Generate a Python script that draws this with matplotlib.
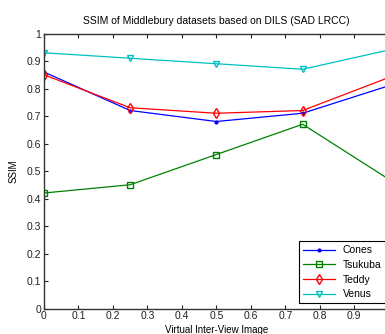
import matplotlib
matplotlib.use("Agg")
import matplotlib.pyplot as plt

# virtual inter-view positions
x_pos = [0.0, 0.25, 0.5, 0.75, 1.0]

cones = [0.86, 0.72, 0.68, 0.71, 0.81]
tsukuba = [0.42, 0.45, 0.56, 0.67, 0.47]
teddy = [0.85, 0.73, 0.71, 0.72, 0.84]
venus = [0.93, 0.91, 0.89, 0.87, 0.94]

x_ticks = [i / 10 for i in range(10)]
y_ticks = [i / 10 for i in range(11)]
x_tick_labels = ["0", "0.1", "0.2", "0.3", "0.4", "0.5", "0.6", "0.7", "0.8", "0.9"]
y_tick_labels = ["0", "0.1", "0.2", "0.3", "0.4", "0.5", "0.6", "0.7", "0.8", "0.9", "1"]


def main():
    plt.rcParams.update({"font.family": "Liberation Sans", "font.size": 7.5})
    fig = plt.figure(figsize=(3.85, 3.34), dpi=100)
    # the right part of the axes runs past the image edge, as in the original crop
    ax = fig.add_axes([0.114, 0.0763, 0.896, 0.8234])

    ax.plot(x_pos, cones, color="#0000ff", marker=".", markersize=4, lw=0.9, label="Cones")
    ax.plot(x_pos, tsukuba, color="#008000", marker="s", markersize=5, mfc="none", lw=0.9, label="Tsukuba")
    ax.plot(x_pos, teddy, color="#ff0000", marker="d", markersize=5, mfc="none", lw=0.9, label="Teddy")
    ax.plot(x_pos, venus, color="#00bfbf", marker="v", markersize=5, mfc="none", lw=0.9, label="Venus")

    ax.set_xlim(0, 1)
    ax.set_ylim(0, 1)
    ax.set_xticks(x_ticks)
    ax.set_xticklabels(x_tick_labels)
    ax.set_yticks(y_ticks)
    ax.set_yticklabels(y_tick_labels)
    ax.tick_params(direction="in", top=True, right=True, length=3, width=0.8, pad=2, colors="#222222")
    for s in ax.spines.values():
        s.set_color("#333333")
        s.set_linewidth(1.0)

    ax.set_title("SSIM of Middlebury datasets based on DILS (SAD LRCC)", fontsize=7.5, pad=7)
    ax.set_xlabel("Virtual Inter-View Image", fontsize=7, labelpad=3)
    ax.set_ylabel("SSIM", fontsize=7, labelpad=6)

    leg = ax.legend(loc="upper left", bbox_to_anchor=(0.777, 0.2784), bbox_transform=fig.transFigure,
                    fancybox=False, edgecolor="black", framealpha=1, handlelength=3,
                    labelspacing=0.45, borderaxespad=0, fontsize=7.5)
    leg.get_frame().set_linewidth(0.8)

    fig.savefig("out.png", dpi=100)
    plt.close(fig)


if __name__ == "__main__":
    main()
